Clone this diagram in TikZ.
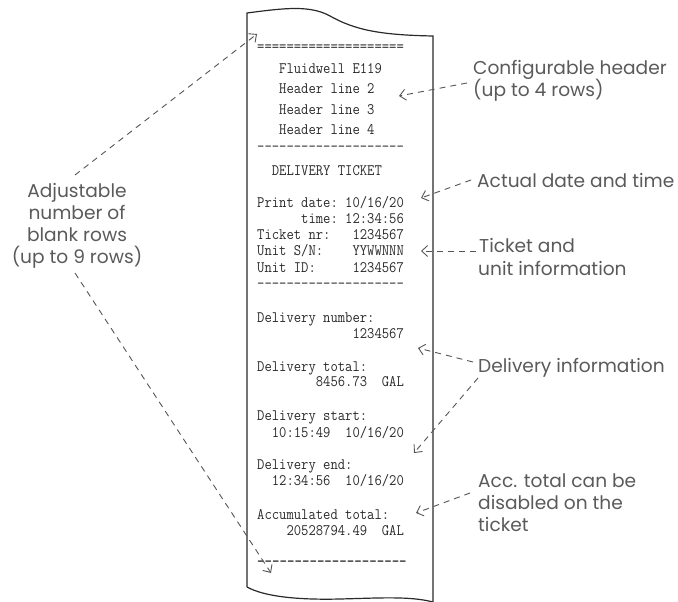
\documentclass[tikz,border=0pt]{standalone}
\usepackage{fontspec}
\usetikzlibrary{arrows.meta}
\newfontfamily\labfont{Poppins}
\definecolor{labgray}{HTML}{5A5A5A}
\definecolor{arrgray}{HTML}{555555}
\definecolor{ink}{HTML}{2A2A2A}
\newcommand\hy{-{}}
\newcommand\dashrow{\hy\hy\hy\hy\hy\hy\hy\hy\hy\hy\hy\hy\hy\hy\hy\hy\hy\hy\hy\hy}
\newcommand\rt[1]{\scalebox{0.89}[1]{#1}}
\tikzset{
  rc/.style={anchor=base west, inner sep=0pt, font=\fontsize{16}{16}\selectfont\ttfamily, text=ink},
  lab/.style={anchor=base west, inner sep=0pt, font=\fontsize{18.6}{18.6}\selectfont\labfont, text=labgray},
  labc/.style={lab, anchor=base},
  pointer/.style={draw=arrgray, line width=0.9pt, dash pattern=on 6pt off 5pt, -{Straight Barb[length=6pt,width=11pt]}},
  paper/.style={draw=ink, line width=1.2pt}
}
\begin{document}
\begin{tikzpicture}[x=1pt,y=-1pt]
\useasboundingbox (0,0) rectangle (678,602);
% paper outline
\draw[paper] (247,587) -- (247,13) .. controls (285,8) and (310,5) .. (330,16)
  .. controls (355,30) and (380,35) .. (433,36) -- (433,602);
\draw[paper] (247,587) .. controls (265,597) and (300,600) .. (340,599)
  .. controls (380,598) and (410,596) .. (433,602);
% receipt text
\node[rc] (r1) at (257,52) {\rt{====================}};
\node[rc] (r2) at (257,74) {\rt{~~~Fluidwell~E119}};
\node[rc] (r3) at (257,94) {\rt{~~~Header~line~2}};
\node[rc] (r4) at (257,114) {\rt{~~~Header~line~3}};
\node[rc] (r5) at (257,134) {\rt{~~~Header~line~4}};
\node[rc] (r6) at (257,151.5) {\rt{\dashrow}};
\node[rc] (r7) at (257,175) {\rt{~~DELIVERY~TICKET}};
\node[rc] (r8) at (257,207.3) {\rt{Print~date:~10/16/20}};
\node[rc] (r9) at (257,223.3) {\rt{~~~~~~time:~12:34:56}};
\node[rc] (r10) at (257,239.3) {\rt{Ticket~nr:~~~1234567}};
\node[rc] (r11) at (257,255.7) {\rt{Unit~S/N:~~~~YYWWNNN}};
\node[rc] (r12) at (257,272) {\rt{Unit~ID:~~~~~1234567}};
\node[rc] (r13) at (257,288.5) {\rt{\dashrow}};
\node[rc] (r14) at (257,322.3) {\rt{Delivery~number:}};
\node[rc] (r15) at (257,338.3) {\rt{~~~~~~~~~~~~~1234567}};
\node[rc] (r16) at (257,371) {\rt{Delivery~total:}};
\node[rc] (r17) at (257,386.7) {\rt{~~~~~~~~8456.73~~GAL}};
\node[rc] (r18) at (257,420.7) {\rt{Delivery~start:}};
\node[rc] (r19) at (257,437.3) {\rt{~~10:15:49~~10/16/20}};
\node[rc] (r20) at (257,469) {\rt{Delivery~end:}};
\node[rc] (r21) at (257,485.7) {\rt{~~12:34:56~~10/16/20}};
\node[rc] (r22) at (257,519) {\rt{Accumulated~total:}};
\node[rc] (r23) at (257,535.7) {\rt{~~~~20528794.49~~GAL}};
\node[rc,font=\fontsize{16}{16}\selectfont\ttfamily\bfseries] (r24) at (257,566.5) {\rt{\dashrow}};
% labels
\node[lab] (cfg1) at (473,75) {Configurable header};
\node[lab] (cfg2) at (473,97) {(up to 4 rows)};
\node[lab] (dt) at (477,187) {Actual date and time};
\node[lab] (tk1) at (479,252) {Ticket and};
\node[lab] (tk2) at (478,275) {unit information};
\node[lab] (dv) at (478,372) {Delivery information};
\node[lab] (ac1) at (478,487) {Acc. total can be};
\node[lab] (ac2) at (478,509) {disabled on the};
\node[lab] (ac3) at (478,531) {ticket};
\node[labc] (ad1) at (77,197) {Adjustable};
\node[labc] (ad2) at (77,219) {number of};
\node[labc] (ad3) at (77,241) {blank rows};
\node[labc] (ad4) at (77,263) {(up to 9 rows)};
% connector end points
\coordinate (s1) at (467,83);  \coordinate (e1) at (399,96);
\coordinate (s2) at (471,180); \coordinate (e2) at (421,198);
\coordinate (s3) at (476,251); \coordinate (e3) at (421,251);
\coordinate (s4) at (473,362); \coordinate (e4) at (418,348);
\coordinate (s5) at (478,378); \coordinate (e5) at (414,453);
\coordinate (s6) at (470,493); \coordinate (e6) at (416,513);
\coordinate (s7) at (75,175);  \coordinate (e7) at (257,34);
\coordinate (s8) at (75,273);  \coordinate (e8) at (271,573);
\draw[pointer] (s1) -- (e1);
\draw[pointer] (s2) -- (e2);
\draw[pointer] (s3) -- (e3);
\draw[pointer] (s4) -- (e4);
\draw[pointer] (s5) -- (e5);
\draw[pointer] (s6) -- (e6);
\draw[pointer] (s7) -- (e7);
\draw[pointer] (s8) -- (e8);
\end{tikzpicture}
\end{document}
